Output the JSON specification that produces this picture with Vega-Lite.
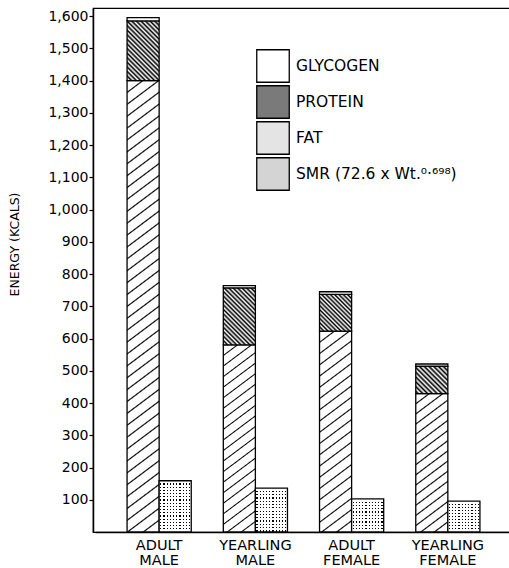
{
  "$schema": "https://vega.github.io/schema/vega-lite/v6.json",
  "autosize": {"type": "none"},
  "width": 417,
  "height": 524,
  "padding": {"left": 93, "top": 8, "right": 0, "bottom": 36},
  "background": "white",
  "config": {"view": {"stroke": "black", "strokeWidth": 1.2}, "font": "DejaVu Sans", "axis": {"labelOverlap": false}, "axisY": {"labelOverlap": false}},
  "data": {"values": [
    {"group": "ADULT MALE", "bar": "TOTAL", "component": "FAT", "energy": 1400},
    {"group": "ADULT MALE", "bar": "TOTAL", "component": "PROTEIN", "energy": 185},
    {"group": "ADULT MALE", "bar": "TOTAL", "component": "GLYCOGEN", "energy": 10},
    {"group": "ADULT MALE", "bar": "SMR", "component": "SMR", "energy": 159},
    {"group": "YEARLING MALE", "bar": "TOTAL", "component": "FAT", "energy": 580},
    {"group": "YEARLING MALE", "bar": "TOTAL", "component": "PROTEIN", "energy": 177},
    {"group": "YEARLING MALE", "bar": "TOTAL", "component": "GLYCOGEN", "energy": 7},
    {"group": "YEARLING MALE", "bar": "SMR", "component": "SMR", "energy": 136},
    {"group": "ADULT FEMALE", "bar": "TOTAL", "component": "FAT", "energy": 623},
    {"group": "ADULT FEMALE", "bar": "TOTAL", "component": "PROTEIN", "energy": 114},
    {"group": "ADULT FEMALE", "bar": "TOTAL", "component": "GLYCOGEN", "energy": 8},
    {"group": "ADULT FEMALE", "bar": "SMR", "component": "SMR", "energy": 103},
    {"group": "YEARLING FEMALE", "bar": "TOTAL", "component": "FAT", "energy": 429},
    {"group": "YEARLING FEMALE", "bar": "TOTAL", "component": "PROTEIN", "energy": 85},
    {"group": "YEARLING FEMALE", "bar": "TOTAL", "component": "GLYCOGEN", "energy": 7},
    {"group": "YEARLING FEMALE", "bar": "SMR", "component": "SMR", "energy": 96}
  ]},
  "encoding": {
    "x": {
      "field": "group", "type": "nominal",
      "sort": ["ADULT MALE", "YEARLING MALE", "ADULT FEMALE", "YEARLING FEMALE"],
      "scale": {"range": [2, 419], "paddingInner": 0.3333, "paddingOuter": 0.3333},
      "axis": {"title": null, "labelExpr": "split(datum.label, ' ')", "labelAngle": 0, "ticks": false, "tickSize": 0, "labelPadding": 6, "labelFont": "DejaVu Sans", "labelFontSize": 14.5, "labelLineHeight": 15, "labelColor": "black", "domainColor": "black", "domainWidth": 1.5}
    },
    "xOffset": {"field": "bar", "type": "nominal", "scale": {"domain": ["TOTAL", "SMR"], "paddingInner": 0, "paddingOuter": 0}}
  },
  "layer": [
    {
      "transform": [
        {"filter": "datum.bar === 'TOTAL'"},
        {"calculate": "indexof(['FAT','PROTEIN','GLYCOGEN'], datum.component)", "as": "stackOrder"}
      ],
      "mark": {"type": "bar", "stroke": "black", "strokeWidth": 1.3},
      "encoding": {
        "y": {
          "field": "energy", "type": "quantitative", "stack": "zero",
          "scale": {"domain": [0, 1625], "nice": false, "zero": true},
          "axis": {"values": [100, 200, 300, 400, 500, 600, 700, 800, 900, 1000, 1100, 1200, 1300, 1400, 1500, 1600], "labelExpr": "format(datum.value, ',')", "labelOverlap": false, "grid": false, "title": "ENERGY (KCALS)", "titleFont": "DejaVu Sans", "titleFontSize": 12.5, "titleFontWeight": "normal", "titleColor": "black", "titleX": -79, "titleY": 236, "titleAngle": -90, "titleAlign": "center", "titleBaseline": "middle", "labelFont": "DejaVu Sans", "labelFontSize": 14, "labelColor": "black", "labelPadding": 1, "tickSize": 4, "tickColor": "black", "tickWidth": 1.2, "domainColor": "black", "domainWidth": 1.5}
        },
        "order": {"field": "stackOrder", "type": "quantitative"},
        "fill": {
          "condition": [
            {"test": "datum.group === 'ADULT MALE' && datum.component === 'FAT'", "value": {"gradient": "linear", "x1": 0, "y1": 0, "x2": 0.056, "y2": 1.0503, "stops": [{"offset":0,"color":"#fff"},{"offset":0.022,"color":"#fff"},{"offset":0.025,"color":"#000"},{"offset":0.028,"color":"#fff"},{"offset":0.047,"color":"#fff"},{"offset":0.05,"color":"#000"},{"offset":0.053,"color":"#fff"},{"offset":0.072,"color":"#fff"},{"offset":0.075,"color":"#000"},{"offset":0.078,"color":"#fff"},{"offset":0.097,"color":"#fff"},{"offset":0.1,"color":"#000"},{"offset":0.103,"color":"#fff"},{"offset":0.122,"color":"#fff"},{"offset":0.125,"color":"#000"},{"offset":0.128,"color":"#fff"},{"offset":0.147,"color":"#fff"},{"offset":0.15,"color":"#000"},{"offset":0.153,"color":"#fff"},{"offset":0.172,"color":"#fff"},{"offset":0.175,"color":"#000"},{"offset":0.178,"color":"#fff"},{"offset":0.197,"color":"#fff"},{"offset":0.2,"color":"#000"},{"offset":0.203,"color":"#fff"},{"offset":0.222,"color":"#fff"},{"offset":0.225,"color":"#000"},{"offset":0.228,"color":"#fff"},{"offset":0.247,"color":"#fff"},{"offset":0.25,"color":"#000"},{"offset":0.253,"color":"#fff"},{"offset":0.272,"color":"#fff"},{"offset":0.275,"color":"#000"},{"offset":0.278,"color":"#fff"},{"offset":0.297,"color":"#fff"},{"offset":0.3,"color":"#000"},{"offset":0.303,"color":"#fff"},{"offset":0.322,"color":"#fff"},{"offset":0.325,"color":"#000"},{"offset":0.328,"color":"#fff"},{"offset":0.347,"color":"#fff"},{"offset":0.35,"color":"#000"},{"offset":0.353,"color":"#fff"},{"offset":0.372,"color":"#fff"},{"offset":0.375,"color":"#000"},{"offset":0.378,"color":"#fff"},{"offset":0.397,"color":"#fff"},{"offset":0.4,"color":"#000"},{"offset":0.403,"color":"#fff"},{"offset":0.422,"color":"#fff"},{"offset":0.425,"color":"#000"},{"offset":0.428,"color":"#fff"},{"offset":0.447,"color":"#fff"},{"offset":0.45,"color":"#000"},{"offset":0.453,"color":"#fff"},{"offset":0.472,"color":"#fff"},{"offset":0.475,"color":"#000"},{"offset":0.478,"color":"#fff"},{"offset":0.497,"color":"#fff"},{"offset":0.5,"color":"#000"},{"offset":0.503,"color":"#fff"},{"offset":0.522,"color":"#fff"},{"offset":0.525,"color":"#000"},{"offset":0.528,"color":"#fff"},{"offset":0.547,"color":"#fff"},{"offset":0.55,"color":"#000"},{"offset":0.553,"color":"#fff"},{"offset":0.572,"color":"#fff"},{"offset":0.575,"color":"#000"},{"offset":0.578,"color":"#fff"},{"offset":0.597,"color":"#fff"},{"offset":0.6,"color":"#000"},{"offset":0.603,"color":"#fff"},{"offset":0.622,"color":"#fff"},{"offset":0.625,"color":"#000"},{"offset":0.628,"color":"#fff"},{"offset":0.647,"color":"#fff"},{"offset":0.65,"color":"#000"},{"offset":0.653,"color":"#fff"},{"offset":0.672,"color":"#fff"},{"offset":0.675,"color":"#000"},{"offset":0.678,"color":"#fff"},{"offset":0.697,"color":"#fff"},{"offset":0.7,"color":"#000"},{"offset":0.703,"color":"#fff"},{"offset":0.722,"color":"#fff"},{"offset":0.725,"color":"#000"},{"offset":0.728,"color":"#fff"},{"offset":0.747,"color":"#fff"},{"offset":0.75,"color":"#000"},{"offset":0.753,"color":"#fff"},{"offset":0.772,"color":"#fff"},{"offset":0.775,"color":"#000"},{"offset":0.778,"color":"#fff"},{"offset":0.797,"color":"#fff"},{"offset":0.8,"color":"#000"},{"offset":0.803,"color":"#fff"},{"offset":0.822,"color":"#fff"},{"offset":0.825,"color":"#000"},{"offset":0.828,"color":"#fff"},{"offset":0.847,"color":"#fff"},{"offset":0.85,"color":"#000"},{"offset":0.853,"color":"#fff"},{"offset":0.872,"color":"#fff"},{"offset":0.875,"color":"#000"},{"offset":0.878,"color":"#fff"},{"offset":0.897,"color":"#fff"},{"offset":0.9,"color":"#000"},{"offset":0.903,"color":"#fff"},{"offset":0.922,"color":"#fff"},{"offset":0.925,"color":"#000"},{"offset":0.928,"color":"#fff"},{"offset":0.947,"color":"#fff"},{"offset":0.95,"color":"#000"},{"offset":0.953,"color":"#fff"},{"offset":0.972,"color":"#fff"},{"offset":0.975,"color":"#000"},{"offset":0.978,"color":"#fff"},{"offset":1,"color":"#fff"}]}},
            {"test": "datum.group === 'YEARLING MALE' && datum.component === 'FAT'", "value": {"gradient": "linear", "x1": 0, "y1": 0, "x2": 0.1429, "y2": 1.1103, "stops": [{"offset":0,"color":"#fff"},{"offset":0.044,"color":"#fff"},{"offset":0.05,"color":"#000"},{"offset":0.056,"color":"#fff"},{"offset":0.094,"color":"#fff"},{"offset":0.1,"color":"#000"},{"offset":0.106,"color":"#fff"},{"offset":0.144,"color":"#fff"},{"offset":0.15,"color":"#000"},{"offset":0.156,"color":"#fff"},{"offset":0.194,"color":"#fff"},{"offset":0.2,"color":"#000"},{"offset":0.206,"color":"#fff"},{"offset":0.244,"color":"#fff"},{"offset":0.25,"color":"#000"},{"offset":0.256,"color":"#fff"},{"offset":0.294,"color":"#fff"},{"offset":0.3,"color":"#000"},{"offset":0.306,"color":"#fff"},{"offset":0.344,"color":"#fff"},{"offset":0.35,"color":"#000"},{"offset":0.356,"color":"#fff"},{"offset":0.394,"color":"#fff"},{"offset":0.4,"color":"#000"},{"offset":0.406,"color":"#fff"},{"offset":0.444,"color":"#fff"},{"offset":0.45,"color":"#000"},{"offset":0.456,"color":"#fff"},{"offset":0.494,"color":"#fff"},{"offset":0.5,"color":"#000"},{"offset":0.506,"color":"#fff"},{"offset":0.544,"color":"#fff"},{"offset":0.55,"color":"#000"},{"offset":0.556,"color":"#fff"},{"offset":0.594,"color":"#fff"},{"offset":0.6,"color":"#000"},{"offset":0.606,"color":"#fff"},{"offset":0.644,"color":"#fff"},{"offset":0.65,"color":"#000"},{"offset":0.656,"color":"#fff"},{"offset":0.694,"color":"#fff"},{"offset":0.7,"color":"#000"},{"offset":0.706,"color":"#fff"},{"offset":0.744,"color":"#fff"},{"offset":0.75,"color":"#000"},{"offset":0.756,"color":"#fff"},{"offset":0.794,"color":"#fff"},{"offset":0.8,"color":"#000"},{"offset":0.806,"color":"#fff"},{"offset":0.844,"color":"#fff"},{"offset":0.85,"color":"#000"},{"offset":0.856,"color":"#fff"},{"offset":0.894,"color":"#fff"},{"offset":0.9,"color":"#000"},{"offset":0.906,"color":"#fff"},{"offset":0.944,"color":"#fff"},{"offset":0.95,"color":"#000"},{"offset":0.956,"color":"#fff"},{"offset":1,"color":"#fff"}]}},
            {"test": "datum.group === 'ADULT FEMALE' && datum.component === 'FAT'", "value": {"gradient": "linear", "x1": 0, "y1": 0, "x2": 0.1323, "y2": 1.104, "stops": [{"offset":0,"color":"#fff"},{"offset":0.044,"color":"#fff"},{"offset":0.05,"color":"#000"},{"offset":0.056,"color":"#fff"},{"offset":0.094,"color":"#fff"},{"offset":0.1,"color":"#000"},{"offset":0.106,"color":"#fff"},{"offset":0.144,"color":"#fff"},{"offset":0.15,"color":"#000"},{"offset":0.156,"color":"#fff"},{"offset":0.194,"color":"#fff"},{"offset":0.2,"color":"#000"},{"offset":0.206,"color":"#fff"},{"offset":0.244,"color":"#fff"},{"offset":0.25,"color":"#000"},{"offset":0.256,"color":"#fff"},{"offset":0.294,"color":"#fff"},{"offset":0.3,"color":"#000"},{"offset":0.306,"color":"#fff"},{"offset":0.344,"color":"#fff"},{"offset":0.35,"color":"#000"},{"offset":0.356,"color":"#fff"},{"offset":0.394,"color":"#fff"},{"offset":0.4,"color":"#000"},{"offset":0.406,"color":"#fff"},{"offset":0.444,"color":"#fff"},{"offset":0.45,"color":"#000"},{"offset":0.456,"color":"#fff"},{"offset":0.494,"color":"#fff"},{"offset":0.5,"color":"#000"},{"offset":0.506,"color":"#fff"},{"offset":0.544,"color":"#fff"},{"offset":0.55,"color":"#000"},{"offset":0.556,"color":"#fff"},{"offset":0.594,"color":"#fff"},{"offset":0.6,"color":"#000"},{"offset":0.606,"color":"#fff"},{"offset":0.644,"color":"#fff"},{"offset":0.65,"color":"#000"},{"offset":0.656,"color":"#fff"},{"offset":0.694,"color":"#fff"},{"offset":0.7,"color":"#000"},{"offset":0.706,"color":"#fff"},{"offset":0.744,"color":"#fff"},{"offset":0.75,"color":"#000"},{"offset":0.756,"color":"#fff"},{"offset":0.794,"color":"#fff"},{"offset":0.8,"color":"#000"},{"offset":0.806,"color":"#fff"},{"offset":0.844,"color":"#fff"},{"offset":0.85,"color":"#000"},{"offset":0.856,"color":"#fff"},{"offset":0.894,"color":"#fff"},{"offset":0.9,"color":"#000"},{"offset":0.906,"color":"#fff"},{"offset":0.944,"color":"#fff"},{"offset":0.95,"color":"#000"},{"offset":0.956,"color":"#fff"},{"offset":1,"color":"#fff"}]}},
            {"test": "datum.group === 'YEARLING FEMALE' && datum.component === 'FAT'", "value": {"gradient": "linear", "x1": 0, "y1": 0, "x2": 0.1983, "y2": 1.1395, "stops": [{"offset":0,"color":"#fff"},{"offset":0.054,"color":"#fff"},{"offset":0.0625,"color":"#000"},{"offset":0.071,"color":"#fff"},{"offset":0.1165,"color":"#fff"},{"offset":0.125,"color":"#000"},{"offset":0.1335,"color":"#fff"},{"offset":0.179,"color":"#fff"},{"offset":0.1875,"color":"#000"},{"offset":0.196,"color":"#fff"},{"offset":0.2415,"color":"#fff"},{"offset":0.25,"color":"#000"},{"offset":0.2585,"color":"#fff"},{"offset":0.304,"color":"#fff"},{"offset":0.3125,"color":"#000"},{"offset":0.321,"color":"#fff"},{"offset":0.3665,"color":"#fff"},{"offset":0.375,"color":"#000"},{"offset":0.3835,"color":"#fff"},{"offset":0.429,"color":"#fff"},{"offset":0.4375,"color":"#000"},{"offset":0.446,"color":"#fff"},{"offset":0.4915,"color":"#fff"},{"offset":0.5,"color":"#000"},{"offset":0.5085,"color":"#fff"},{"offset":0.554,"color":"#fff"},{"offset":0.5625,"color":"#000"},{"offset":0.571,"color":"#fff"},{"offset":0.6165,"color":"#fff"},{"offset":0.625,"color":"#000"},{"offset":0.6335,"color":"#fff"},{"offset":0.679,"color":"#fff"},{"offset":0.6875,"color":"#000"},{"offset":0.696,"color":"#fff"},{"offset":0.7415,"color":"#fff"},{"offset":0.75,"color":"#000"},{"offset":0.7585,"color":"#fff"},{"offset":0.804,"color":"#fff"},{"offset":0.8125,"color":"#000"},{"offset":0.821,"color":"#fff"},{"offset":0.8665,"color":"#fff"},{"offset":0.875,"color":"#000"},{"offset":0.8835,"color":"#fff"},{"offset":0.929,"color":"#fff"},{"offset":0.9375,"color":"#000"},{"offset":0.946,"color":"#fff"},{"offset":1,"color":"#fff"}]}},
            {"test": "datum.group === 'ADULT MALE' && datum.component === 'PROTEIN'", "value": {"gradient": "linear", "x1": 1, "y1": 0, "x2": 0.3589, "y2": 1.1929, "stops": [{"offset":0,"color":"#000"},{"offset":0.025,"color":"#fff"},{"offset":0.05,"color":"#000"},{"offset":0.075,"color":"#fff"},{"offset":0.1,"color":"#000"},{"offset":0.125,"color":"#fff"},{"offset":0.15,"color":"#000"},{"offset":0.175,"color":"#fff"},{"offset":0.2,"color":"#000"},{"offset":0.225,"color":"#fff"},{"offset":0.25,"color":"#000"},{"offset":0.275,"color":"#fff"},{"offset":0.3,"color":"#000"},{"offset":0.325,"color":"#fff"},{"offset":0.35,"color":"#000"},{"offset":0.375,"color":"#fff"},{"offset":0.4,"color":"#000"},{"offset":0.425,"color":"#fff"},{"offset":0.45,"color":"#000"},{"offset":0.475,"color":"#fff"},{"offset":0.5,"color":"#000"},{"offset":0.525,"color":"#fff"},{"offset":0.55,"color":"#000"},{"offset":0.575,"color":"#fff"},{"offset":0.6,"color":"#000"},{"offset":0.625,"color":"#fff"},{"offset":0.65,"color":"#000"},{"offset":0.675,"color":"#fff"},{"offset":0.7,"color":"#000"},{"offset":0.725,"color":"#fff"},{"offset":0.75,"color":"#000"},{"offset":0.775,"color":"#fff"},{"offset":0.8,"color":"#000"},{"offset":0.825,"color":"#fff"},{"offset":0.85,"color":"#000"},{"offset":0.875,"color":"#fff"},{"offset":0.9,"color":"#000"},{"offset":0.925,"color":"#fff"},{"offset":0.95,"color":"#000"},{"offset":0.975,"color":"#fff"},{"offset":1,"color":"#000"}]}},
            {"test": "datum.group === 'YEARLING MALE' && datum.component === 'PROTEIN'", "value": {"gradient": "linear", "x1": 1, "y1": 0, "x2": 0.3331, "y2": 1.1871, "stops": [{"offset":0,"color":"#000"},{"offset":0.025,"color":"#fff"},{"offset":0.05,"color":"#000"},{"offset":0.075,"color":"#fff"},{"offset":0.1,"color":"#000"},{"offset":0.125,"color":"#fff"},{"offset":0.15,"color":"#000"},{"offset":0.175,"color":"#fff"},{"offset":0.2,"color":"#000"},{"offset":0.225,"color":"#fff"},{"offset":0.25,"color":"#000"},{"offset":0.275,"color":"#fff"},{"offset":0.3,"color":"#000"},{"offset":0.325,"color":"#fff"},{"offset":0.35,"color":"#000"},{"offset":0.375,"color":"#fff"},{"offset":0.4,"color":"#000"},{"offset":0.425,"color":"#fff"},{"offset":0.45,"color":"#000"},{"offset":0.475,"color":"#fff"},{"offset":0.5,"color":"#000"},{"offset":0.525,"color":"#fff"},{"offset":0.55,"color":"#000"},{"offset":0.575,"color":"#fff"},{"offset":0.6,"color":"#000"},{"offset":0.625,"color":"#fff"},{"offset":0.65,"color":"#000"},{"offset":0.675,"color":"#fff"},{"offset":0.7,"color":"#000"},{"offset":0.725,"color":"#fff"},{"offset":0.75,"color":"#000"},{"offset":0.775,"color":"#fff"},{"offset":0.8,"color":"#000"},{"offset":0.825,"color":"#fff"},{"offset":0.85,"color":"#000"},{"offset":0.875,"color":"#fff"},{"offset":0.9,"color":"#000"},{"offset":0.925,"color":"#fff"},{"offset":0.95,"color":"#000"},{"offset":0.975,"color":"#fff"},{"offset":1,"color":"#000"}]}},
            {"test": "datum.group === 'ADULT FEMALE' && datum.component === 'PROTEIN'", "value": {"gradient": "linear", "x1": 1, "y1": 0, "x2": 0.0729, "y2": 1.0635, "stops": [{"offset":0,"color":"#000"},{"offset":0.03125,"color":"#fff"},{"offset":0.0625,"color":"#000"},{"offset":0.09375,"color":"#fff"},{"offset":0.125,"color":"#000"},{"offset":0.15625,"color":"#fff"},{"offset":0.1875,"color":"#000"},{"offset":0.21875,"color":"#fff"},{"offset":0.25,"color":"#000"},{"offset":0.28125,"color":"#fff"},{"offset":0.3125,"color":"#000"},{"offset":0.34375,"color":"#fff"},{"offset":0.375,"color":"#000"},{"offset":0.40625,"color":"#fff"},{"offset":0.4375,"color":"#000"},{"offset":0.46875,"color":"#fff"},{"offset":0.5,"color":"#000"},{"offset":0.53125,"color":"#fff"},{"offset":0.5625,"color":"#000"},{"offset":0.59375,"color":"#fff"},{"offset":0.625,"color":"#000"},{"offset":0.65625,"color":"#fff"},{"offset":0.6875,"color":"#000"},{"offset":0.71875,"color":"#fff"},{"offset":0.75,"color":"#000"},{"offset":0.78125,"color":"#fff"},{"offset":0.8125,"color":"#000"},{"offset":0.84375,"color":"#fff"},{"offset":0.875,"color":"#000"},{"offset":0.90625,"color":"#fff"},{"offset":0.9375,"color":"#000"},{"offset":0.96875,"color":"#fff"},{"offset":1,"color":"#000"}]}},
            {"test": "datum.group === 'YEARLING FEMALE' && datum.component === 'PROTEIN'", "value": {"gradient": "linear", "x1": 1, "y1": 0, "x2": -0.072, "y2": 0.9156, "stops": [{"offset":0,"color":"#000"},{"offset":0.04,"color":"#fff"},{"offset":0.08,"color":"#000"},{"offset":0.12,"color":"#fff"},{"offset":0.16,"color":"#000"},{"offset":0.2,"color":"#fff"},{"offset":0.24,"color":"#000"},{"offset":0.28,"color":"#fff"},{"offset":0.32,"color":"#000"},{"offset":0.36,"color":"#fff"},{"offset":0.4,"color":"#000"},{"offset":0.44,"color":"#fff"},{"offset":0.48,"color":"#000"},{"offset":0.52,"color":"#fff"},{"offset":0.56,"color":"#000"},{"offset":0.6,"color":"#fff"},{"offset":0.64,"color":"#000"},{"offset":0.68,"color":"#fff"},{"offset":0.72,"color":"#000"},{"offset":0.76,"color":"#fff"},{"offset":0.8,"color":"#000"},{"offset":0.84,"color":"#fff"},{"offset":0.88,"color":"#000"},{"offset":0.92,"color":"#fff"},{"offset":0.96,"color":"#000"},{"offset":1,"color":"#fff"}]}}
          ],
          "field": "component", "type": "nominal",
          "scale": {"domain": ["GLYCOGEN", "PROTEIN", "FAT", "SMR"], "range": ["#ffffff", "#7a7a7a", "#e4e4e4", "#d4d4d4"]},
          "legend": {
            "orient": "none", "legendX": 163, "legendY": 41, "title": null, "padding": 0,
            "symbolType": "square", "symbolSize": 1056, "symbolStrokeColor": "black", "symbolStrokeWidth": 1.3,
            "rowPadding": -6, "labelFont": "DejaVu Sans", "labelFontSize": 15.5, "labelColor": "black", "labelOffset": 6, "labelLimit": 300,
            "labelExpr": "datum.label === 'SMR' ? 'SMR (72.6 x Wt.⁰·⁶⁹⁸)' : datum.label",
            "encode": {"symbols": {"update": {
              "stroke": {"value": "black"},
              "strokeWidth": {"value": 1.3}
            }}}
          }
        }
      }
    },
    {
      "transform": [{"filter": "datum.bar === 'SMR'"}],
      "mark": {"type": "bar", "strokeWidth": 0},
      "encoding": {
        "y": {"field": "energy", "type": "quantitative", "stack": null, "scale": {"domain": [0, 1625], "nice": false, "zero": true},
          "axis": {"values": [100, 200, 300, 400, 500, 600, 700, 800, 900, 1000, 1100, 1200, 1300, 1400, 1500, 1600], "labelExpr": "format(datum.value, ',')", "labelOverlap": false}},
        "fill": {
          "condition": [
            {"test": "datum.group === 'ADULT MALE'", "value": {"gradient": "linear", "x1": 0, "y1": 0, "x2": 0, "y2": 1, "stops": [{"offset":0,"color":"#fff"},{"offset":0.0508,"color":"#fff"},{"offset":0.0508,"color":"#000"},{"offset":0.0742,"color":"#000"},{"offset":0.0742,"color":"#fff"},{"offset":0.1133,"color":"#fff"},{"offset":0.1133,"color":"#000"},{"offset":0.1367,"color":"#000"},{"offset":0.1367,"color":"#fff"},{"offset":0.1758,"color":"#fff"},{"offset":0.1758,"color":"#000"},{"offset":0.1992,"color":"#000"},{"offset":0.1992,"color":"#fff"},{"offset":0.2383,"color":"#fff"},{"offset":0.2383,"color":"#000"},{"offset":0.2617,"color":"#000"},{"offset":0.2617,"color":"#fff"},{"offset":0.3008,"color":"#fff"},{"offset":0.3008,"color":"#000"},{"offset":0.3242,"color":"#000"},{"offset":0.3242,"color":"#fff"},{"offset":0.3633,"color":"#fff"},{"offset":0.3633,"color":"#000"},{"offset":0.3867,"color":"#000"},{"offset":0.3867,"color":"#fff"},{"offset":0.4258,"color":"#fff"},{"offset":0.4258,"color":"#000"},{"offset":0.4492,"color":"#000"},{"offset":0.4492,"color":"#fff"},{"offset":0.4883,"color":"#fff"},{"offset":0.4883,"color":"#000"},{"offset":0.5117,"color":"#000"},{"offset":0.5117,"color":"#fff"},{"offset":0.5508,"color":"#fff"},{"offset":0.5508,"color":"#000"},{"offset":0.5742,"color":"#000"},{"offset":0.5742,"color":"#fff"},{"offset":0.6133,"color":"#fff"},{"offset":0.6133,"color":"#000"},{"offset":0.6367,"color":"#000"},{"offset":0.6367,"color":"#fff"},{"offset":0.6758,"color":"#fff"},{"offset":0.6758,"color":"#000"},{"offset":0.6992,"color":"#000"},{"offset":0.6992,"color":"#fff"},{"offset":0.7383,"color":"#fff"},{"offset":0.7383,"color":"#000"},{"offset":0.7617,"color":"#000"},{"offset":0.7617,"color":"#fff"},{"offset":0.8008,"color":"#fff"},{"offset":0.8008,"color":"#000"},{"offset":0.8242,"color":"#000"},{"offset":0.8242,"color":"#fff"},{"offset":0.8633,"color":"#fff"},{"offset":0.8633,"color":"#000"},{"offset":0.8867,"color":"#000"},{"offset":0.8867,"color":"#fff"},{"offset":0.9258,"color":"#fff"},{"offset":0.9258,"color":"#000"},{"offset":0.9492,"color":"#000"},{"offset":0.9492,"color":"#fff"},{"offset":1,"color":"#fff"}]}},
            {"test": "datum.group === 'YEARLING MALE'", "value": {"gradient": "linear", "x1": 0, "y1": 0, "x2": 0, "y2": 1, "stops": [{"offset":0,"color":"#fff"},{"offset":0.0613,"color":"#fff"},{"offset":0.0613,"color":"#000"},{"offset":0.0887,"color":"#000"},{"offset":0.0887,"color":"#fff"},{"offset":0.1363,"color":"#fff"},{"offset":0.1363,"color":"#000"},{"offset":0.1637,"color":"#000"},{"offset":0.1637,"color":"#fff"},{"offset":0.2113,"color":"#fff"},{"offset":0.2113,"color":"#000"},{"offset":0.2387,"color":"#000"},{"offset":0.2387,"color":"#fff"},{"offset":0.2863,"color":"#fff"},{"offset":0.2863,"color":"#000"},{"offset":0.3137,"color":"#000"},{"offset":0.3137,"color":"#fff"},{"offset":0.3613,"color":"#fff"},{"offset":0.3613,"color":"#000"},{"offset":0.3887,"color":"#000"},{"offset":0.3887,"color":"#fff"},{"offset":0.4363,"color":"#fff"},{"offset":0.4363,"color":"#000"},{"offset":0.4637,"color":"#000"},{"offset":0.4637,"color":"#fff"},{"offset":0.5113,"color":"#fff"},{"offset":0.5113,"color":"#000"},{"offset":0.5387,"color":"#000"},{"offset":0.5387,"color":"#fff"},{"offset":0.5863,"color":"#fff"},{"offset":0.5863,"color":"#000"},{"offset":0.6137,"color":"#000"},{"offset":0.6137,"color":"#fff"},{"offset":0.6613,"color":"#fff"},{"offset":0.6613,"color":"#000"},{"offset":0.6887,"color":"#000"},{"offset":0.6887,"color":"#fff"},{"offset":0.7363,"color":"#fff"},{"offset":0.7363,"color":"#000"},{"offset":0.7637,"color":"#000"},{"offset":0.7637,"color":"#fff"},{"offset":0.8113,"color":"#fff"},{"offset":0.8113,"color":"#000"},{"offset":0.8387,"color":"#000"},{"offset":0.8387,"color":"#fff"},{"offset":0.8863,"color":"#fff"},{"offset":0.8863,"color":"#000"},{"offset":0.9137,"color":"#000"},{"offset":0.9137,"color":"#fff"},{"offset":0.9613,"color":"#fff"},{"offset":0.9613,"color":"#000"},{"offset":0.9887,"color":"#000"},{"offset":0.9887,"color":"#fff"},{"offset":1,"color":"#fff"}]}},
            {"test": "datum.group === 'ADULT FEMALE'", "value": {"gradient": "linear", "x1": 0, "y1": 0, "x2": 0, "y2": 1, "stops": [{"offset":0,"color":"#fff"},{"offset":0.082,"color":"#fff"},{"offset":0.082,"color":"#000"},{"offset":0.118,"color":"#000"},{"offset":0.118,"color":"#fff"},{"offset":0.182,"color":"#fff"},{"offset":0.182,"color":"#000"},{"offset":0.218,"color":"#000"},{"offset":0.218,"color":"#fff"},{"offset":0.282,"color":"#fff"},{"offset":0.282,"color":"#000"},{"offset":0.318,"color":"#000"},{"offset":0.318,"color":"#fff"},{"offset":0.382,"color":"#fff"},{"offset":0.382,"color":"#000"},{"offset":0.418,"color":"#000"},{"offset":0.418,"color":"#fff"},{"offset":0.482,"color":"#fff"},{"offset":0.482,"color":"#000"},{"offset":0.518,"color":"#000"},{"offset":0.518,"color":"#fff"},{"offset":0.582,"color":"#fff"},{"offset":0.582,"color":"#000"},{"offset":0.618,"color":"#000"},{"offset":0.618,"color":"#fff"},{"offset":0.682,"color":"#fff"},{"offset":0.682,"color":"#000"},{"offset":0.718,"color":"#000"},{"offset":0.718,"color":"#fff"},{"offset":0.782,"color":"#fff"},{"offset":0.782,"color":"#000"},{"offset":0.818,"color":"#000"},{"offset":0.818,"color":"#fff"},{"offset":0.882,"color":"#fff"},{"offset":0.882,"color":"#000"},{"offset":0.918,"color":"#000"},{"offset":0.918,"color":"#fff"},{"offset":1,"color":"#fff"}]}},
            {"test": "datum.group === 'YEARLING FEMALE'", "value": {"gradient": "linear", "x1": 0, "y1": 0, "x2": 0, "y2": 1, "stops": [{"offset":0,"color":"#fff"},{"offset":0.081,"color":"#fff"},{"offset":0.081,"color":"#000"},{"offset":0.119,"color":"#000"},{"offset":0.119,"color":"#fff"},{"offset":0.181,"color":"#fff"},{"offset":0.181,"color":"#000"},{"offset":0.219,"color":"#000"},{"offset":0.219,"color":"#fff"},{"offset":0.281,"color":"#fff"},{"offset":0.281,"color":"#000"},{"offset":0.319,"color":"#000"},{"offset":0.319,"color":"#fff"},{"offset":0.381,"color":"#fff"},{"offset":0.381,"color":"#000"},{"offset":0.419,"color":"#000"},{"offset":0.419,"color":"#fff"},{"offset":0.481,"color":"#fff"},{"offset":0.481,"color":"#000"},{"offset":0.519,"color":"#000"},{"offset":0.519,"color":"#fff"},{"offset":0.581,"color":"#fff"},{"offset":0.581,"color":"#000"},{"offset":0.619,"color":"#000"},{"offset":0.619,"color":"#fff"},{"offset":0.681,"color":"#fff"},{"offset":0.681,"color":"#000"},{"offset":0.719,"color":"#000"},{"offset":0.719,"color":"#fff"},{"offset":0.781,"color":"#fff"},{"offset":0.781,"color":"#000"},{"offset":0.819,"color":"#000"},{"offset":0.819,"color":"#fff"},{"offset":0.881,"color":"#fff"},{"offset":0.881,"color":"#000"},{"offset":0.919,"color":"#000"},{"offset":0.919,"color":"#fff"},{"offset":1,"color":"#fff"}]}}
          ],
          "field": "component", "type": "nominal",
          "scale": {"domain": ["GLYCOGEN", "PROTEIN", "FAT", "SMR"], "range": ["#ffffff", "#7a7a7a", "#e4e4e4", "#d4d4d4"]}
        }
      }
    },
    {
      "transform": [{"filter": "datum.bar === 'SMR'"}],
      "mark": {"type": "bar", "strokeWidth": 0, "fill": {"gradient": "linear", "x1": 0, "y1": 0, "x2": 1, "y2": 0, "stops": [{"offset":0,"color":"#fff"},{"offset":0.031,"color":"#fff"},{"offset":0.031,"color":"rgba(255,255,255,0)"},{"offset":0.069,"color":"rgba(255,255,255,0)"},{"offset":0.069,"color":"#fff"},{"offset":0.131,"color":"#fff"},{"offset":0.131,"color":"rgba(255,255,255,0)"},{"offset":0.169,"color":"rgba(255,255,255,0)"},{"offset":0.169,"color":"#fff"},{"offset":0.231,"color":"#fff"},{"offset":0.231,"color":"rgba(255,255,255,0)"},{"offset":0.269,"color":"rgba(255,255,255,0)"},{"offset":0.269,"color":"#fff"},{"offset":0.331,"color":"#fff"},{"offset":0.331,"color":"rgba(255,255,255,0)"},{"offset":0.369,"color":"rgba(255,255,255,0)"},{"offset":0.369,"color":"#fff"},{"offset":0.431,"color":"#fff"},{"offset":0.431,"color":"rgba(255,255,255,0)"},{"offset":0.469,"color":"rgba(255,255,255,0)"},{"offset":0.469,"color":"#fff"},{"offset":0.531,"color":"#fff"},{"offset":0.531,"color":"rgba(255,255,255,0)"},{"offset":0.569,"color":"rgba(255,255,255,0)"},{"offset":0.569,"color":"#fff"},{"offset":0.631,"color":"#fff"},{"offset":0.631,"color":"rgba(255,255,255,0)"},{"offset":0.669,"color":"rgba(255,255,255,0)"},{"offset":0.669,"color":"#fff"},{"offset":0.731,"color":"#fff"},{"offset":0.731,"color":"rgba(255,255,255,0)"},{"offset":0.769,"color":"rgba(255,255,255,0)"},{"offset":0.769,"color":"#fff"},{"offset":0.831,"color":"#fff"},{"offset":0.831,"color":"rgba(255,255,255,0)"},{"offset":0.869,"color":"rgba(255,255,255,0)"},{"offset":0.869,"color":"#fff"},{"offset":0.931,"color":"#fff"},{"offset":0.931,"color":"rgba(255,255,255,0)"},{"offset":0.969,"color":"rgba(255,255,255,0)"},{"offset":0.969,"color":"#fff"},{"offset":1,"color":"#fff"}]}},
      "encoding": {
        "y": {"field": "energy", "type": "quantitative", "stack": null, "scale": {"domain": [0, 1625], "nice": false, "zero": true},
          "axis": {"values": [100, 200, 300, 400, 500, 600, 700, 800, 900, 1000, 1100, 1200, 1300, 1400, 1500, 1600], "labelExpr": "format(datum.value, ',')", "labelOverlap": false}}
      }
    },
    {
      "transform": [{"filter": "datum.bar === 'SMR'"}],
      "mark": {"type": "bar", "fill": "transparent", "stroke": "black", "strokeWidth": 1.3},
      "encoding": {
        "y": {"field": "energy", "type": "quantitative", "stack": null, "scale": {"domain": [0, 1625], "nice": false, "zero": true},
          "axis": {"values": [100, 200, 300, 400, 500, 600, 700, 800, 900, 1000, 1100, 1200, 1300, 1400, 1500, 1600], "labelExpr": "format(datum.value, ',')", "labelOverlap": false}}
      }
    }
  ]
}
